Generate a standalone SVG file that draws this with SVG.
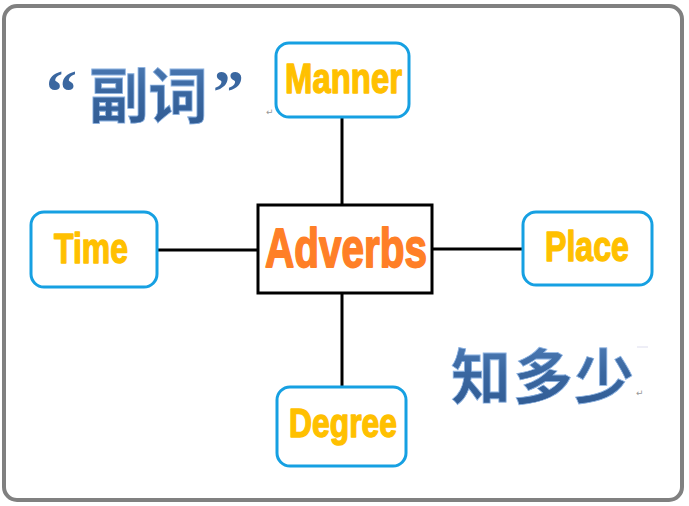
<svg xmlns="http://www.w3.org/2000/svg" width="689" height="506" viewBox="0 0 689 506">
<defs>
<style>
.box{fill:#fff;stroke:#16A0E2;stroke-width:3}
.lbl{font-family:"Liberation Sans Narrow","Liberation Sans","DejaVu Sans Condensed",sans-serif;font-weight:bold;font-stretch:condensed;fill:#FFC000;stroke:#FFC000;stroke-width:1.4;stroke-linejoin:round;font-size:42px}
.conn{stroke:#000;stroke-width:3;fill:none}
.cjk{font-family:"Noto Sans CJK SC","Noto Sans CJK TC",sans-serif;font-weight:bold;font-size:60px;fill:url(#blue);stroke:#8DB3E2;stroke-width:0.8;text-anchor:middle}
.quote{font-family:"Liberation Serif",serif;font-weight:bold;font-size:62px;fill:#3A67A0}
.mark{font-family:"DejaVu Sans",sans-serif;font-size:9px;fill:#999}
</style>
<linearGradient id="blue" x1="0" y1="0" x2="0" y2="1">
<stop offset="0" stop-color="#5584BE"/>
<stop offset="0.5" stop-color="#3A67A0"/>
<stop offset="1" stop-color="#2F5A92"/>
</linearGradient>
</defs>
<rect x="4" y="6" width="678" height="494" rx="13" fill="#fff" stroke="#808080" stroke-width="4"/>
<g id="connectors">
<line class="conn" x1="342" y1="117" x2="342" y2="205"/>
<line class="conn" x1="342" y1="293" x2="342" y2="387"/>
<line class="conn" x1="157" y1="250" x2="258" y2="250"/>
<line class="conn" x1="432" y1="249" x2="523" y2="249"/>
</g>
<g id="adverbs">
<rect x="258" y="205" width="174" height="88" fill="#fff" stroke="#000" stroke-width="3"/>
<text x="265" y="267" class="lbl" style="fill:#FF7F27;stroke:#FF7F27;stroke-width:1.8;font-size:56px" textLength="162" lengthAdjust="spacingAndGlyphs">Adverbs</text>
</g>
<g id="manner">
<rect class="box" x="276" y="43" width="133" height="74" rx="13"/>
<text x="285" y="93" class="lbl" textLength="117" lengthAdjust="spacingAndGlyphs">Manner</text>
</g>
<g id="time">
<rect class="box" x="31" y="212" width="126" height="75" rx="13"/>
<text x="54" y="263" class="lbl" textLength="74" lengthAdjust="spacingAndGlyphs">Time</text>
</g>
<g id="place">
<rect class="box" x="523" y="212" width="129" height="73" rx="13"/>
<text x="545" y="261" class="lbl" textLength="84" lengthAdjust="spacingAndGlyphs">Place</text>
</g>
<g id="degree">
<rect class="box" x="277" y="387" width="129" height="79" rx="13"/>
<text x="289" y="437" class="lbl" style="font-size:40px" textLength="108" lengthAdjust="spacingAndGlyphs">Degree</text>
</g>
<g id="title">
<text class="quote" x="46" y="112">“</text>
<text class="cjk" y="118"><tspan x="119">副</tspan><tspan x="178">词</tspan></text>
<text class="quote" x="213" y="112">”</text>
</g>
<g id="subtitle">
<text class="cjk" y="399"><tspan x="481">知</tspan><tspan x="543">多</tspan><tspan x="604">少</tspan></text>
</g>
<text class="mark" x="266" y="115">↵</text>
<text class="mark" x="636" y="396">↵</text>
<line x1="637" y1="347" x2="648" y2="347" stroke="#dde" stroke-width="1"/>
</svg>
